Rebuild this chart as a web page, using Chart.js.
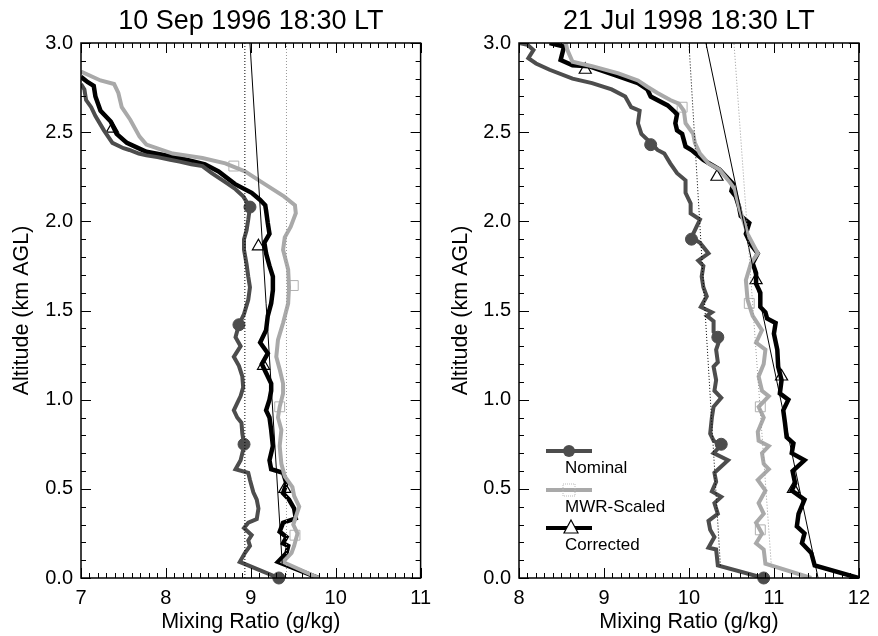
<!DOCTYPE html>
<html>
<head>
<meta charset="utf-8">
<script src="https://cdn.jsdelivr.net/npm/chart.js@4.4.1/dist/chart.umd.min.js"></script>
<style>
  html, body { margin: 0; padding: 0; background: #fff; }
  #wrap { position: relative; width: 878px; height: 636px; }
  .panel { position: absolute; top: 0; width: 439px; height: 636px; }
</style>
</head>
<body>
<div id="wrap">
  <div class="panel" style="left:0"><canvas id="c1" width="439" height="636"></canvas></div>
  <div class="panel" style="left:439px"><canvas id="c2" width="439" height="636"></canvas></div>
</div>
<script>
// ---- 10 Sep 1996 (left) ----
const leftAltNom = [0.00,0.09,0.14,0.18,0.21,0.24,0.28,0.31,0.33,0.39,0.44,0.48,0.55,0.59,0.61,0.66,0.72,0.75,0.81,0.87,0.90,0.94,0.98,1.02,1.07,1.13,1.19,1.24,1.30,1.35,1.42,1.48,1.56,1.63,1.69,1.76,1.84,1.90,1.95,2.01,2.08,2.14,2.18,2.21,2.27,2.31,2.32,2.335,2.345,2.36,2.37,2.38,2.40,2.41,2.44,2.51,2.59,2.64,2.68,2.74,2.77];
const leftNom    = [9.33,8.87,8.93,8.99,8.97,9.01,8.92,8.97,9.07,9.09,9.07,9.03,8.99,8.97,8.82,8.88,8.91,8.92,8.90,8.89,8.84,8.80,8.84,8.88,8.91,8.90,8.86,8.80,8.88,8.82,8.86,8.92,8.97,8.99,8.97,8.95,8.92,8.92,8.95,8.97,8.99,8.91,8.82,8.73,8.54,8.43,8.30,8.16,8.05,7.90,7.77,7.68,7.57,7.50,7.37,7.27,7.17,7.12,7.06,7.04,7.00];

const leftAltMwr = [0.00,0.09,0.14,0.18,0.25,0.30,0.40,0.46,0.51,0.57,0.64,0.74,0.83,0.90,0.96,1.035,1.09,1.17,1.24,1.335,1.43,1.54,1.63,1.73,1.84,1.91,1.97,2.045,2.09,2.14,2.21,2.28,2.325,2.355,2.38,2.43,2.475,2.57,2.64,2.72,2.77,2.79,2.84];
const leftMwr    = [9.80,9.38,9.48,9.51,9.55,9.50,9.57,9.51,9.49,9.40,9.36,9.34,9.36,9.32,9.34,9.38,9.38,9.34,9.30,9.32,9.38,9.44,9.45,9.44,9.38,9.40,9.47,9.53,9.52,9.39,9.16,8.93,8.70,8.43,8.08,7.77,7.69,7.58,7.48,7.44,7.39,7.23,7.00];

const leftAltCor = [0.00,0.09,0.14,0.18,0.195,0.23,0.26,0.31,0.335,0.39,0.44,0.475,0.53,0.59,0.61,0.66,0.74,0.83,0.90,0.94,1.00,1.05,1.09,1.15,1.20,1.26,1.32,1.39,1.47,1.54,1.615,1.69,1.75,1.82,1.88,1.93,1.99,2.06,2.09,2.12,2.16,2.21,2.28,2.32,2.355,2.39,2.44,2.49,2.56,2.62,2.70,2.76,2.78,2.81];
const leftCor    = [9.80,9.32,9.42,9.44,9.38,9.42,9.34,9.38,9.53,9.51,9.45,9.38,9.42,9.38,9.24,9.22,9.26,9.24,9.22,9.18,9.22,9.24,9.24,9.18,9.13,9.20,9.11,9.18,9.20,9.24,9.26,9.26,9.22,9.18,9.16,9.22,9.20,9.18,9.17,9.11,9.01,8.81,8.62,8.46,8.16,7.77,7.54,7.42,7.35,7.23,7.17,7.15,7.08,7.00];

// thin reference lines
const leftFitAlt    = [0.00, 3.00];
const leftFitNom    = [8.93, 8.93];
const leftFitMwr    = [9.42, 9.42];
const leftFitCorAlt = [0.08, 3.00];
const leftFitCor    = [9.37, 8.99];

// symbol positions
const leftMkAltNom = [0.00, 0.75, 1.42, 2.08];
const leftMkNom    = [9.33, 8.92, 8.86, 8.99];
const leftMkAltMwr = [0.24, 0.96, 1.64, 2.31];
const leftMkMwr    = [9.52, 9.34, 9.50, 8.80];
const leftMkAltCor = [0.50, 1.19, 1.86, 2.52];
const leftMkCor    = [9.40, 9.15, 9.09, 7.37];

// ---- 21 Jul 1998 (right) ----
const rightAltNom = [0.00,0.07,0.16,0.17,0.23,0.27,0.32,0.36,0.42,0.455,0.485,0.54,0.59,0.66,0.70,0.745,0.77,0.81,0.90,0.96,1.01,1.05,1.11,1.185,1.21,1.28,1.335,1.38,1.44,1.47,1.49,1.52,1.58,1.63,1.69,1.75,1.78,1.82,1.88,1.91,1.97,2.01,2.045,2.10,2.16,2.23,2.27,2.325,2.38,2.40,2.44,2.49,2.55,2.62,2.64,2.70,2.74,2.775,2.80,2.85,2.885,2.915,2.96,2.99,3.00];
const rightNom    = [10.88,10.34,10.32,10.23,10.30,10.25,10.23,10.34,10.30,10.38,10.27,10.32,10.30,10.46,10.29,10.38,10.29,10.25,10.27,10.29,10.38,10.30,10.32,10.29,10.34,10.32,10.36,10.29,10.29,10.21,10.27,10.14,10.21,10.17,10.15,10.17,10.11,10.23,10.13,10.03,10.09,10.13,10.02,10.02,9.96,9.96,9.86,9.78,9.71,9.63,9.55,9.44,9.40,9.42,9.32,9.25,9.09,8.86,8.63,8.36,8.20,8.11,8.17,8.10,8.00];

const rightAltMwr = [0.00,0.08,0.16,0.195,0.25,0.31,0.36,0.42,0.49,0.55,0.61,0.64,0.70,0.74,0.77,0.82,0.90,0.96,1.02,1.05,1.13,1.20,1.28,1.32,1.39,1.47,1.56,1.67,1.765,1.82,1.93,1.99,2.08,2.18,2.22,2.29,2.325,2.38,2.44,2.49,2.55,2.62,2.66,2.68,2.72,2.755,2.79,2.83,2.87,2.895,2.96,3.00];
const rightMwr    = [11.44,10.90,10.88,10.79,10.86,10.79,10.88,10.82,10.90,10.81,10.94,10.88,10.86,10.94,10.82,10.81,10.88,10.82,10.94,10.86,10.82,10.88,10.90,10.79,10.86,10.75,10.69,10.67,10.73,10.81,10.69,10.65,10.59,10.54,10.48,10.36,10.23,10.13,10.07,10.05,9.96,9.94,9.88,9.78,9.63,9.51,9.40,9.17,8.86,8.63,8.57,8.55];

const rightAltCor = [0.00,0.07,0.14,0.195,0.25,0.29,0.36,0.44,0.49,0.53,0.60,0.66,0.70,0.755,0.79,0.87,0.94,1.00,1.035,1.11,1.185,1.28,1.37,1.43,1.455,1.49,1.52,1.60,1.65,1.71,1.765,1.82,1.87,1.93,1.99,2.03,2.08,2.14,2.17,2.21,2.25,2.29,2.345,2.40,2.42,2.49,2.51,2.55,2.60,2.62,2.65,2.70,2.74,2.775,2.82,2.87,2.875,2.905,2.98,3.00];
const rightCor    = [12.00,11.48,11.44,11.33,11.36,11.27,11.29,11.36,11.21,11.25,11.22,11.36,11.21,11.23,11.15,11.13,11.11,11.17,11.07,11.09,11.05,11.04,11.00,11.02,10.92,10.90,10.84,10.84,10.79,10.79,10.75,10.81,10.73,10.67,10.71,10.61,10.59,10.55,10.50,10.52,10.44,10.36,10.17,10.03,9.96,9.92,9.86,9.84,9.86,9.82,9.75,9.55,9.51,9.40,9.13,8.82,8.63,8.49,8.53,8.36];

const rightFitAlt    = [0.07, 3.00];
const rightFitNom    = [10.37, 10.00];
const rightFitMwr    = [10.97, 10.53];
const rightFitCorAlt = [0.00, 3.00];
const rightFitCor    = [11.52, 10.20];

const rightMkAltNom = [0.00, 0.75, 1.35, 1.90, 2.43];
const rightMkNom    = [10.88, 10.38, 10.34, 10.03, 9.55];
const rightMkAltMwr = [0.27, 0.96, 1.54, 2.64];
const rightMkMwr    = [10.84, 10.84, 10.71, 9.92];
const rightMkAltCor = [0.50, 1.13, 1.67, 2.25, 2.85];
const rightMkCor    = [11.23, 11.09, 10.79, 10.33, 8.78];

const legendNames = ['Nominal', 'MWR-Scaled', 'Corrected'];

const NOM = '#4d4d4d', MWR = '#a9a9a9', COR = '#000000';
const FONT = '"Liberation Sans", Arial, Helvetica, sans-serif';

function pts(xs, ys) { return xs.map((x, i) => ({ x: x, y: ys[i] })); }

// inward ticks on all four sides, frame and panel title
const frameTicks = {
  id: 'frameTicks',
  afterDraw(chart) {
    const { ctx, chartArea: a, scales: { x, y } } = chart;
    ctx.save();
    ctx.strokeStyle = '#000';
    ctx.lineWidth = 1;
    ctx.beginPath();
    for (let v = Math.round(x.min * 10); v <= Math.round(x.max * 10); v++) {
      const px = Math.round(x.getPixelForValue(v / 10)) + 0.5;
      const len = v % 10 === 0 ? 10 : 5;
      ctx.moveTo(px, a.bottom); ctx.lineTo(px, a.bottom - len);
      ctx.moveTo(px, a.top); ctx.lineTo(px, a.top + len);
    }
    for (let v = 0; v <= 30; v++) {
      const py = Math.round(y.getPixelForValue(v / 10)) + 0.5;
      const len = v % 5 === 0 ? 10 : 5;
      ctx.moveTo(a.left, py); ctx.lineTo(a.left + len, py);
      ctx.moveTo(a.right, py); ctx.lineTo(a.right - len, py);
    }
    ctx.stroke();
    ctx.lineWidth = 1.5;
    ctx.strokeRect(a.left, a.top, a.right - a.left, a.bottom - a.top);

    ctx.fillStyle = '#000';
    ctx.font = '27px ' + FONT;
    ctx.textAlign = 'center';
    ctx.textBaseline = 'alphabetic';
    ctx.fillText(chart.options.plugins.frameTicks.title, (a.left + a.right) / 2, 29);
    ctx.restore();
  }
};

// legend drawn inside the right panel
const inLegend = {
  id: 'inLegend',
  afterDraw(chart) {
    if (!chart.options.plugins.inLegend.show) return;
    const ctx = chart.ctx;
    const x0 = 107, x1 = 153, rows = [451, 490, 528];
    const cols = [NOM, MWR, COR];
    ctx.save();
    rows.forEach((ry, i) => {
      ctx.strokeStyle = cols[i];
      ctx.lineWidth = 4;
      ctx.beginPath(); ctx.moveTo(x0, ry); ctx.lineTo(x1, ry); ctx.stroke();
      const cx = (x0 + x1) / 2;
      if (i === 0) {
        ctx.fillStyle = NOM;
        ctx.beginPath(); ctx.arc(cx, ry, 6, 0, Math.PI * 2); ctx.fill();
      } else if (i === 1) {
        ctx.strokeStyle = '#bbb'; ctx.lineWidth = 1; ctx.setLineDash([1, 1]);
        ctx.strokeRect(cx - 6, ry - 6, 12, 12); ctx.setLineDash([]);
      } else {
        ctx.fillStyle = '#fff'; ctx.strokeStyle = '#000'; ctx.lineWidth = 1.2;
        ctx.beginPath(); ctx.moveTo(cx + 2, ry - 8); ctx.lineTo(cx + 9, ry + 5); ctx.lineTo(cx - 5, ry + 5); ctx.closePath();
        ctx.fill(); ctx.stroke();
      }
      ctx.fillStyle = '#000';
      ctx.font = '17px ' + FONT;
      ctx.textBaseline = 'middle';
      ctx.textAlign = 'left';
      ctx.fillText(legendNames[i], 126, ry + 17);
    });
    ctx.restore();
  }
};

function makePanel(id, cfg) {
  const line = (data, color, width, dash) => ({
    data: data, showLine: true, borderColor: color, backgroundColor: color,
    borderWidth: width, borderDash: dash || [], pointRadius: 0, tension: 0
  });
  const marks = (data, style, fill, stroke, r, bw) => ({
    data: data, showLine: false, pointStyle: style, pointRadius: r,
    pointBackgroundColor: fill, pointBorderColor: stroke, pointBorderWidth: bw, clip: false
  });
  return new Chart(document.getElementById(id), {
    type: 'scatter',
    data: {
      datasets: [
        line(cfg.fitNom, '#000', 1, [1, 2]),
        line(cfg.fitMwr, '#999', 1, [1, 2]),
        line(cfg.fitCor, '#000', 1),
        line(cfg.nom, NOM, 4),
        line(cfg.mwr, MWR, 4),
        line(cfg.cor, COR, 4.5),
        marks(cfg.mkNom, 'circle', NOM, NOM, 6, 1),
        marks(cfg.mkMwr, 'rect', 'rgba(0,0,0,0)', '#b0b0b0', 7, 1),
        marks(cfg.mkCor, 'triangle', '#fff', '#000', 7, 1.2)
      ]
    },
    options: {
      responsive: false,
      animation: false,
      layout: { padding: { left: 0, right: cfg.padRight, top: 43, bottom: 0 } },
      plugins: {
        legend: { display: false },
        tooltip: { enabled: false },
        title: { display: false },
        frameTicks: { title: cfg.title },
        inLegend: { show: cfg.legend }
      },
      scales: {
        x: {
          type: 'linear', min: cfg.xmin, max: cfg.xmax,
          grid: { display: false, drawTicks: false },
          border: { display: false },
          ticks: { stepSize: 1, color: '#000', padding: 8, font: { family: FONT, size: 20 } },
          title: { display: true, text: 'Mixing Ratio (g/kg)', color: '#000', padding: { top: 0, bottom: 1 }, font: { family: FONT, size: 21.5 } },
          afterFit(s) { s.height = 58; }
        },
        y: {
          type: 'linear', min: 0, max: 3,
          grid: { display: false, drawTicks: false },
          border: { display: false },
          ticks: { stepSize: 0.5, color: '#000', padding: 8, font: { family: FONT, size: 20 }, callback: v => v.toFixed(1) },
          title: { display: true, text: 'Altitude (km AGL)', color: '#000', padding: { top: 9, bottom: 0 }, font: { family: FONT, size: 21.5 } },
          afterFit(s) { s.width = cfg.yWidth; }
        }
      }
    },
    plugins: [frameTicks, inLegend]
  });
}

makePanel('c1', {
  title: '10 Sep 1996 18:30 LT', xmin: 7, xmax: 11, padRight: 12, yWidth: 81, legend: false,
  nom: pts(leftNom, leftAltNom), mwr: pts(leftMwr, leftAltMwr), cor: pts(leftCor, leftAltCor),
  fitNom: pts(leftFitNom, leftFitAlt), fitMwr: pts(leftFitMwr, leftFitAlt), fitCor: pts(leftFitCor, leftFitCorAlt),
  mkNom: pts(leftMkNom, leftMkAltNom), mkMwr: pts(leftMkMwr, leftMkAltMwr), mkCor: pts(leftMkCor, leftMkAltCor)
});

makePanel('c2', {
  title: '21 Jul 1998 18:30 LT', xmin: 8, xmax: 12, padRight: 13, yWidth: 80, legend: true,
  nom: pts(rightNom, rightAltNom), mwr: pts(rightMwr, rightAltMwr), cor: pts(rightCor, rightAltCor),
  fitNom: pts(rightFitNom, rightFitAlt), fitMwr: pts(rightFitMwr, rightFitAlt), fitCor: pts(rightFitCor, rightFitCorAlt),
  mkNom: pts(rightMkNom, rightMkAltNom), mkMwr: pts(rightMkMwr, rightMkAltMwr), mkCor: pts(rightMkCor, rightMkAltCor)
});
</script>
</body>
</html>
